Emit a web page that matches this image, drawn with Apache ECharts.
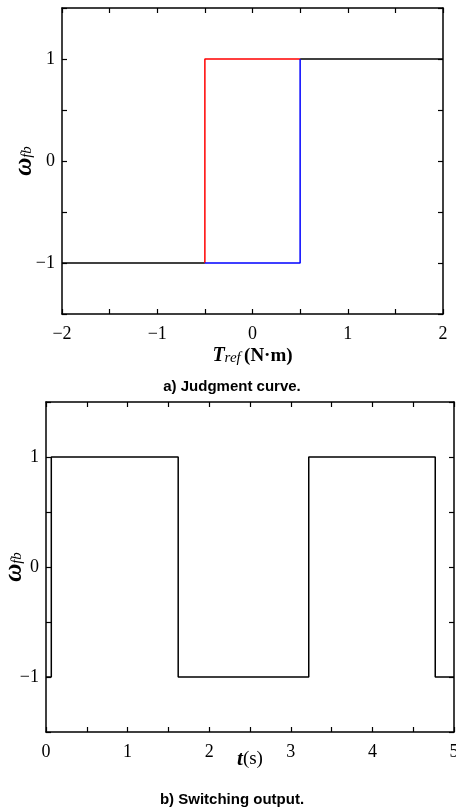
<!DOCTYPE html>
<html>
<head>
<meta charset="utf-8">
<script src="https://cdn.jsdelivr.net/npm/echarts@6/dist/echarts.min.js"></script>
<style>
  html, body { margin: 0; padding: 0; background: #fff; }
  #chart { width: 456px; height: 810px; }
</style>
</head>
<body>
<div id="chart"></div>
<script>
// a) judgment curve (hysteresis)
const blackLeft = [[-2, -1], [-0.5, -1]];
const blackRight = [[0.5, 1], [2, 1]];
const redPath = [[-0.5, -1], [-0.5, 1], [0.5, 1]];
const bluePath = [[-0.5, -1], [0.5, -1], [0.5, 1]];

// b) switching output: level held from each switch time
const switchTimes = [0, 0.065, 1.62, 3.22, 4.77, 5];
const switchLevels = [-1, 1, -1, 1, -1, -1];

const serif = "Liberation Serif";
const fmt = (v) => (Number.isInteger(v) ? String(v).replace("-", "\u2212") : "");

function boxAxes(gridIndex, min, max, isX, withLabels, pos) {
  return {
    type: "value",
    gridIndex: gridIndex,
    position: pos,
    min: min,
    max: max,
    interval: 0.5,
    nameMoveOverlap: false,
    axisLine: { show: true, onZero: false, lineStyle: { color: "#000", width: 1.5 } },
    axisTick: { show: true, inside: true, length: 5, lineStyle: { color: "#000", width: 1.2 } },
    splitLine: { show: false },
    axisLabel: {
      show: withLabels,
      formatter: fmt,
      color: "#000",
      fontFamily: serif,
      fontSize: 18,
      margin: isX ? 11 : 7,
      showMinLabel: true,
      showMaxLabel: true
    }
  };
}

const xName1 = boxAxes(0, -2, 2, true, true, "bottom");
xName1.name = "{b|T}{s|ref} {n|(N\u00b7m)}";
xName1.nameLocation = "middle";
xName1.nameGap = 32;
xName1.nameTextStyle = {
  rich: {
    b: { fontFamily: serif, fontStyle: "italic", fontWeight: "bold", fontSize: 20, color: "#000" },
    s: { fontFamily: serif, fontStyle: "italic", fontSize: 15, color: "#000", padding: [4, 0, 0, 0] },
    n: { fontFamily: serif, fontWeight: "bold", fontSize: 19, color: "#000" }
  }
};

const xName2 = boxAxes(1, 0, 5, true, true, "bottom");
xName2.name = "{b|t}{n|(s)}";
xName2.nameLocation = "middle";
xName2.nameGap = 17;
xName2.nameTextStyle = {
  rich: {
    b: { fontFamily: serif, fontStyle: "italic", fontWeight: "bold", fontSize: 21, color: "#000" },
    n: { fontFamily: serif, fontSize: 19, color: "#000" }
  }
};

function yNamed(gridIndex, gap) {
  const a = boxAxes(gridIndex, -1.5, 1.5, false, true, "left");
  a.name = "{w|\u03c9}{s|fb}";
  a.nameLocation = "middle";
  a.nameGap = gap;
  a.nameTextStyle = {
    rich: {
      w: { fontFamily: serif, fontStyle: "italic", fontWeight: "bold", fontSize: 25, color: "#000" },
      s: { fontFamily: serif, fontStyle: "italic", fontSize: 15, color: "#000", padding: [6, 0, 0, 0] }
    }
  };
  return a;
}

const option = {
  animation: false,
  backgroundColor: "#fff",
  title: [
    {
      text: "a) Judgment curve.",
      left: 227, top: 374, textAlign: "center",
      textStyle: { fontFamily: "Liberation Sans", fontWeight: "bold", fontSize: 15, color: "#000" }
    },
    {
      text: "b) Switching output.",
      left: 227, top: 787, textAlign: "center",
      textStyle: { fontFamily: "Liberation Sans", fontWeight: "bold", fontSize: 15, color: "#000" }
    }
  ],
  grid: [
    { left: 62, top: 8, width: 381, height: 306, containLabel: false, outerBoundsMode: "none" },
    { left: 46, top: 402, width: 408, height: 330, containLabel: false, outerBoundsMode: "none" }
  ],
  xAxis: [
    xName1,
    boxAxes(0, -2, 2, true, false, "top"),
    xName2,
    boxAxes(1, 0, 5, true, false, "top")
  ],
  yAxis: [
    yNamed(0, 25),
    boxAxes(0, -1.5, 1.5, false, false, "right"),
    yNamed(1, 19),
    boxAxes(1, -1.5, 1.5, false, false, "right")
  ],
  series: [
    { type: "line", xAxisIndex: 0, yAxisIndex: 0, data: blackLeft, symbol: "none", lineStyle: { color: "#000", width: 1.5 } },
    { type: "line", xAxisIndex: 0, yAxisIndex: 0, data: blackRight, symbol: "none", lineStyle: { color: "#000", width: 1.5 } },
    { type: "line", xAxisIndex: 0, yAxisIndex: 0, data: redPath, symbol: "none", lineStyle: { color: "#ff0000", width: 1.5 } },
    { type: "line", xAxisIndex: 0, yAxisIndex: 0, data: bluePath, symbol: "none", lineStyle: { color: "#0000ff", width: 1.5 } },
    {
      type: "line", xAxisIndex: 2, yAxisIndex: 2, step: "end", symbol: "none",
      data: switchTimes.map((t, i) => [t, switchLevels[i]]),
      lineStyle: { color: "#000", width: 1.5 }
    }
  ]
};

const chart = echarts.init(document.getElementById("chart"), null, { renderer: "canvas" });
chart.setOption(option);
</script>
</body>
</html>
